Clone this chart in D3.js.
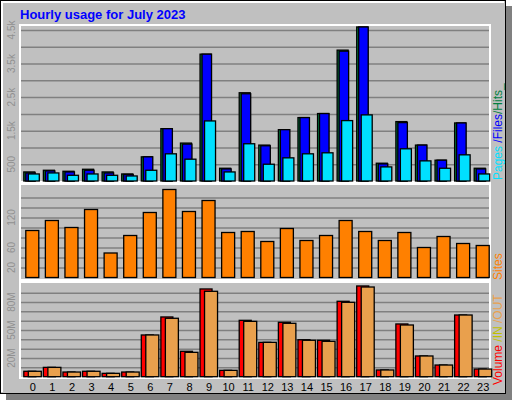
<!DOCTYPE html><html><head><meta charset="utf-8">
<script src="https://cdn.jsdelivr.net/npm/d3@7"></script>
<style>body{margin:0;background:#fff}svg{display:block}text{font-family:"Liberation Sans",Arial,sans-serif}</style>
</head><body><script>
const hours=d3.range(24).map(String);
const hits=[270,320,290,350,270,210,720,1560,1130,3780,380,2630,1070,1530,1890,2010,3900,4590,530,1770,1070,620,1730,380];
const files=[240,300,270,320,240,195,720,1560,1100,3780,360,2600,1050,1530,1890,2010,3870,4590,510,1740,1070,620,1730,360];
const pages=[210,240,170,210,170,150,320,810,650,1790,270,1110,500,690,810,840,1800,1970,420,960,600,380,780,210];
const sites=[94,114,100,136,49,84,130,176,132,154,90,92,72,98,74,84,114,92,74,90,60,82,68,64];
const volIn=[5.8,10,5,5.8,3.6,5,44.7,64,27.2,94,6.8,60.4,36.8,58.3,39.6,39,80.8,97.2,7.2,56.5,22.2,12.5,66.1,8.2];
const volOut=[5.8,10,5,5.8,3.6,5,44.7,62.6,26.1,91.5,6.8,59.3,36.8,57.2,39,37.9,79.7,96.1,7.2,55.4,22.2,12.5,66.1,8.2];
const topTicks=[500,1500,2500,3500,4500], topLabels=["500","1.5k","2.5k","3.5k","4.5k"];
const siteTicks=[20,60,120], volTicks=[20,50,80];

const svg=d3.select("body").append("svg").attr("width",512).attr("height",400);
svg.append("rect").attr("width",512).attr("height",400).attr("fill","#fff");
svg.append("rect").attr("x",6).attr("y",6).attr("width",506).attr("height",394).attr("fill","#808080");
svg.append("rect").attr("x",0.5).attr("y",0.5).attr("width",505).attr("height",393).attr("fill","#c0c0c0").attr("stroke","#000");
svg.append("path").attr("d","M2,392V2H504").attr("fill","none").attr("stroke","#fff").attr("stroke-width",2);
svg.append("text").attr("x",20).attr("y",19).attr("fill","#0000ff").attr("font-weight","bold").attr("font-size",13).text("Hourly usage for July 2023");

const x=d3.scaleBand().domain(hours).range([20,490]).paddingInner(0);
const cx=h=>x(h)+x.bandwidth()/2+3.5-0.5;
const L=20,R=490;
function panel(y0,y1){svg.append("rect").attr("x",L).attr("y",y0).attr("width",R-L).attr("height",y1-y0).attr("fill","#c0c0c0").attr("stroke","#fff").attr("stroke-width",2);}
function grid(y,vals){svg.append("g").selectAll("line").data(vals).join("line").attr("x1",L+1).attr("x2",R-1).attr("y1",d=>y(d)+0.5).attr("y2",d=>y(d)+0.5).attr("stroke","#808080").attr("stroke-width",1.5);}
function ylab(y,vals,labs){svg.append("g").selectAll("text").data(vals).join("text").attr("transform",d=>`translate(15,${y(d)}) rotate(-90)`).attr("text-anchor","middle").attr("fill","#909090").attr("font-size",10).text((d,i)=>labs?labs[i]:d+(y.sfx||""));}
function bars(y,data,dx,w,fill){svg.append("g").selectAll("rect").data(data).join("rect").attr("x",(d,i)=>cx(hours[i])+dx).attr("y",d=>y(d)).attr("width",w).attr("height",d=>y(0)-y(d)).attr("fill",fill).attr("stroke","#000").attr("stroke-width",1.3);}

// top panel
panel(25,182);
const y1=d3.scaleLinear().domain([0,4500]).range([181,30]);
grid(y1,d3.range(500,4501,500));
bars(y1,hits,-9,11,"#008040");
bars(y1,files,-7,9.5,"#0000ff");
bars(y1,pages,-4.5,11,"#00e0ff");
ylab(y1,topTicks,topLabels);

// sites
panel(184,280);
const y2=d3.scaleLinear().domain([0,160]).range([277.5,197.5]);
grid(y2,d3.range(20,161,20));
bars(y2,sites,-7,13,"#ff8000");
ylab(y2,siteTicks);

// volume
panel(282,378);
const y3=d3.scaleLinear().domain([0,90]).range([376.7,292.7]);
grid(y3,d3.range(10,91,10));
bars(y3,volIn,-9,12,"#ff0000");
bars(y3,volOut,-4.5,13,"#e9a04d");
y3.sfx="M";ylab(y3,volTicks);

svg.append("g").selectAll("text").data(hours).join("text").attr("x",h=>cx(h)).attr("y",391).attr("text-anchor","middle").attr("font-size",11).attr("fill","#000").text(h=>h);

function rlab(yBottom,parts){const t=svg.append("text").attr("transform",`translate(502,${yBottom}) rotate(-90)`).attr("font-size",12);parts.forEach(([s,c])=>t.append("tspan").attr("fill",c).text(s));}
rlab(180,[["Pages ","#00e0ff"],["/Files","#0000ff"],["/Hits_","#008040"]]);
rlab(280,[["Sites","#ff8000"]]);
rlab(385,[["Volume ","#ff0000"],["/IN ","#c0c000"],["/OUT","#e9a04d"]]);
</script></body></html>
